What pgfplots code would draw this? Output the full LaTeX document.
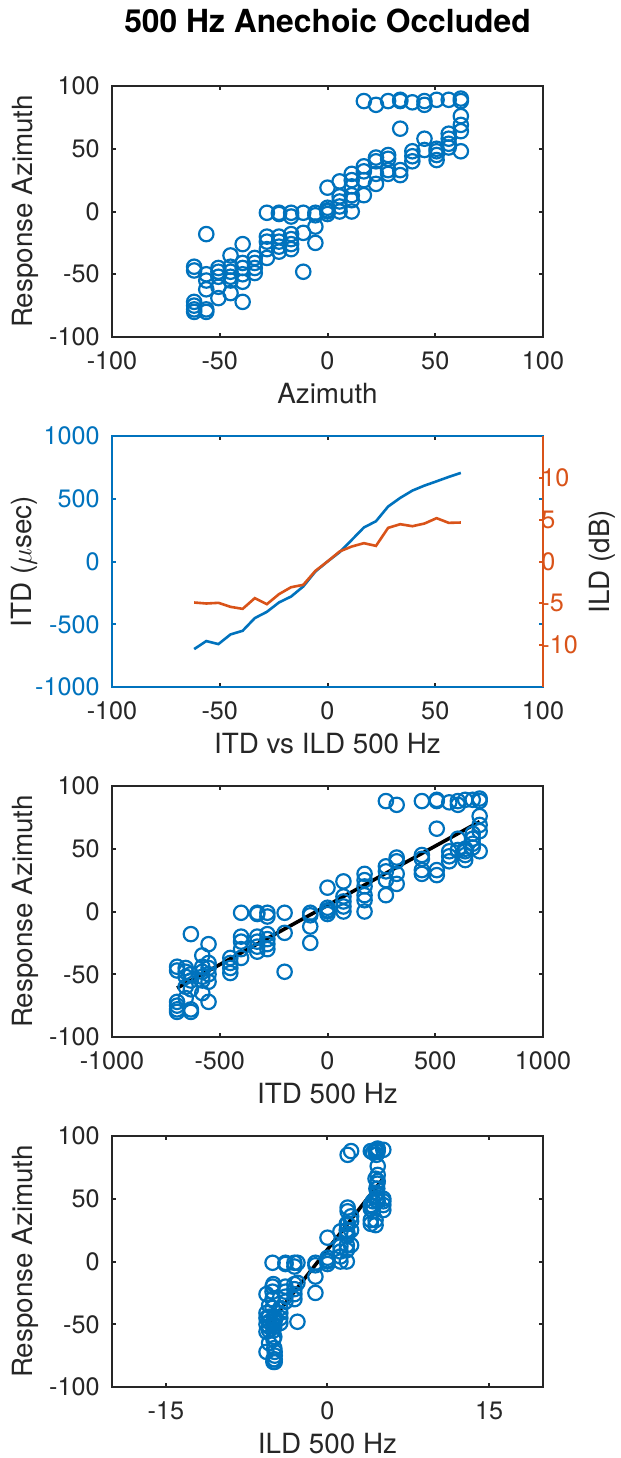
\documentclass[border=0pt]{standalone}
\usepackage{pgfplots}
\usepackage{pgfplotstable}
\usepackage{fontspec}
\setmainfont{TeX Gyre Heros}
\pgfplotsset{compat=1.18}
\definecolor{mblue}{RGB}{0,114,189}
\definecolor{morange}{RGB}{217,83,25}
\definecolor{axgray}{RGB}{38,38,38}

\pgfplotstableread{
az itd ild
-61.875 -698 -4.90
-56.25 -634 -5.02
-50.625 -658 -4.94
-45 -581 -5.42
-39.375 -552 -5.66
-33.75 -451 -4.38
-28.125 -401 -5.10
-22.5 -326 -3.90
-16.875 -279 -3.07
-11.25 -199 -2.79
-5.625 -80 -1.12
0 0 0
5.625 74 1.20
11.25 172 1.79
16.875 271 2.19
22.5 321 1.87
28.125 438 4.02
33.75 507 4.46
39.375 565 4.22
45 605 4.54
50.625 639 5.18
56.25 674 4.62
61.875 706 4.66
}\cues

\pgfplotstableread{
az itd ild resp
-61.875 -698 -4.90 -44
-61.875 -698 -4.90 -47
-61.875 -698 -4.90 -72
-61.875 -698 -4.90 -75
-61.875 -698 -4.90 -78
-61.875 -698 -4.90 -80
-56.25 -634 -5.02 -18
-56.25 -634 -5.02 -50
-56.25 -634 -5.02 -55
-56.25 -634 -5.02 -62
-56.25 -634 -5.02 -78
-56.25 -634 -5.02 -80
-50.625 -658 -4.94 -45
-50.625 -658 -4.94 -48
-50.625 -658 -4.94 -52
-50.625 -658 -4.94 -60
-50.625 -658 -4.94 -69
-45 -581 -5.42 -35
-45 -581 -5.42 -44
-45 -581 -5.42 -48
-45 -581 -5.42 -52
-45 -581 -5.42 -55
-45 -581 -5.42 -65
-39.375 -552 -5.66 -26
-39.375 -552 -5.66 -41
-39.375 -552 -5.66 -45
-39.375 -552 -5.66 -50
-39.375 -552 -5.66 -56
-39.375 -552 -5.66 -72
-33.75 -451 -4.38 -37
-33.75 -451 -4.38 -41
-33.75 -451 -4.38 -45
-33.75 -451 -4.38 -49
-28.125 -401 -5.10 -1
-28.125 -401 -5.10 -20
-28.125 -401 -5.10 -24
-28.125 -401 -5.10 -30
-28.125 -401 -5.10 -37
-22.5 -326 -3.90 -1
-22.5 -326 -3.90 -2
-22.5 -326 -3.90 -20
-22.5 -326 -3.90 -24
-22.5 -326 -3.90 -28
-22.5 -326 -3.90 -32
-16.875 -279 -3.07 -1
-16.875 -279 -3.07 -4
-16.875 -279 -3.07 -18
-16.875 -279 -3.07 -22
-16.875 -279 -3.07 -26
-16.875 -279 -3.07 -30
-11.25 -199 -2.79 -1
-11.25 -199 -2.79 -17
-11.25 -199 -2.79 -48
-5.625 -80 -1.12 -1
-5.625 -80 -1.12 -3
-5.625 -80 -1.12 -12
-5.625 -80 -1.12 -25
0 0 0 19
0 0 0 3
0 0 0 0
0 0 0 -2
0 0 0 1
5.625 74 1.20 24
5.625 74 1.20 12
5.625 74 1.20 8
5.625 74 1.20 4
5.625 74 1.20 0
11.25 172 1.79 30
11.25 172 1.79 25
11.25 172 1.79 20
11.25 172 1.79 13
11.25 172 1.79 9
11.25 172 1.79 0
16.875 271 2.19 88
16.875 271 2.19 36
16.875 271 2.19 32
16.875 271 2.19 25
16.875 271 2.19 13
22.5 321 1.87 85
22.5 321 1.87 43
22.5 321 1.87 40
22.5 321 1.87 30
22.5 321 1.87 22
28.125 438 4.02 88
28.125 438 4.02 45
28.125 438 4.02 42
28.125 438 4.02 33
28.125 438 4.02 30
33.75 507 4.46 89
33.75 507 4.46 88
33.75 507 4.46 66
33.75 507 4.46 33
33.75 507 4.46 29
39.375 565 4.22 87
39.375 565 4.22 48
39.375 565 4.22 44
39.375 565 4.22 40
45 605 4.54 88
45 605 4.54 85
45 605 4.54 58
45 605 4.54 49
50.625 639 5.18 89
50.625 639 5.18 50
50.625 639 5.18 48
50.625 639 5.18 45
50.625 639 5.18 41
56.25 674 4.62 89
56.25 674 4.62 62
56.25 674 4.62 58
56.25 674 4.62 54
56.25 674 4.62 51
61.875 706 4.66 90
61.875 706 4.66 88
61.875 706 4.66 76
61.875 706 4.66 69
61.875 706 4.66 64
61.875 706 4.66 48
}\scat

\pgfplotsset{
  mystyle/.style={
    width=215.5pt, height=125.5pt, scale only axis,
    anchor=north west,
    axis line style={axgray, line width=1pt},
    tick style={axgray, line width=1pt},
    major tick length=2.2pt,
    tick align=inside,
    scaled ticks=false,
    /pgf/number format/1000 sep={},
    /pgf/number format/assume math mode=true,
    ticklabel style={font=\fontsize{12.6}{14}\selectfont, text=axgray},
    label style={font=\fontsize{13.9}{16}\selectfont, text=axgray},
    xticklabel style={anchor=base, yshift=-16pt, inner sep=0pt},
    yticklabel style={anchor=east, inner sep=0pt, xshift=-6pt},
    xlabel style={at={(axis description cs:0.5,-0.266)}, anchor=base},
    ylabel style={at={(axis description cs:-0.2,0.5)}, anchor=center},
  },
  scat/.style={only marks, mark=o, mark size=3.6pt, color=mblue, mark options={line width=1.1pt}},
}

\begin{document}
\begin{tikzpicture}
\path[use as bounding box] (0,0) rectangle (310.5pt,-729pt);

% Panel 1
\begin{axis}[mystyle, at={(56pt,-43pt)},
  xmin=-100, xmax=100, ymin=-100, ymax=100,
  xtick={-100,-50,0,50,100}, ytick={-100,-50,0,50,100},
  xlabel={Azimuth}, ylabel={Response Azimuth}]
\addplot[scat] table[x=az, y=resp] {\scat};
\end{axis}
\node[anchor=base, font=\bfseries\fontsize{15.9}{18}\selectfont, text=black] at (163.75pt,-16pt) {500 Hz Anechoic Occluded};

% Panel 2 (left axis)
\begin{axis}[mystyle, at={(56pt,-218pt)},
  xmin=-100, xmax=100, ymin=-1000, ymax=1000,
  xtick={-100,-50,0,50,100}, ytick={-1000,-500,0,500,1000},
  y axis line style={mblue},
  ytick style={mblue},
  yticklabel style={text=mblue},
  xlabel={ITD vs ILD 500 Hz}, ylabel={ITD ($\mu$sec)},
  ylabel style={at={(axis description cs:-0.204,0.5)}}]
\addplot[mblue, line width=1.3pt] table[x=az, y=itd] {\cues};
\end{axis}
% Panel 2 (right axis)
\begin{axis}[mystyle, at={(56pt,-218pt)},
  xmin=-100, xmax=100, ymin=-15, ymax=15,
  axis x line=none, axis y line*=right,
  ytick={-10,-5,0,5,10},
  y axis line style={morange, line width=1pt},
  ytick style={morange},
  yticklabel style={text=morange, anchor=west, inner sep=0pt, xshift=5pt},
  ylabel={ILD (dB)},
  ylabel style={at={(axis description cs:1.138,0.5)}, anchor=center}]
\addplot[morange, line width=1.3pt] table[x=az, y=ild] {\cues};
\end{axis}

% Panel 3
\begin{axis}[mystyle, at={(56pt,-393pt)},
  xmin=-1000, xmax=1000, ymin=-100, ymax=100,
  xtick={-1000,-500,0,500,1000}, ytick={-100,-50,0,50,100},
  xlabel={ITD 500 Hz}, ylabel={Response Azimuth}]
\addplot[scat] table[x=itd, y=resp] {\scat};
\addplot[black, line width=1.8pt] coordinates {(-698,-61) (706,71.6)};
\end{axis}

% Panel 4
\begin{axis}[mystyle, at={(56pt,-568pt)},
  xmin=-20, xmax=20, ymin=-100, ymax=100,
  xtick={-15,0,15}, ytick={-100,-50,0,50,100},
  xlabel={ILD 500 Hz}, ylabel={Response Azimuth}]
\addplot[scat] table[x=ild, y=resp] {\scat};
\addplot[black, line width=1.8pt] coordinates {(-5.66,-52.3) (5.18,66.3)};
\end{axis}
\end{tikzpicture}
\end{document}
